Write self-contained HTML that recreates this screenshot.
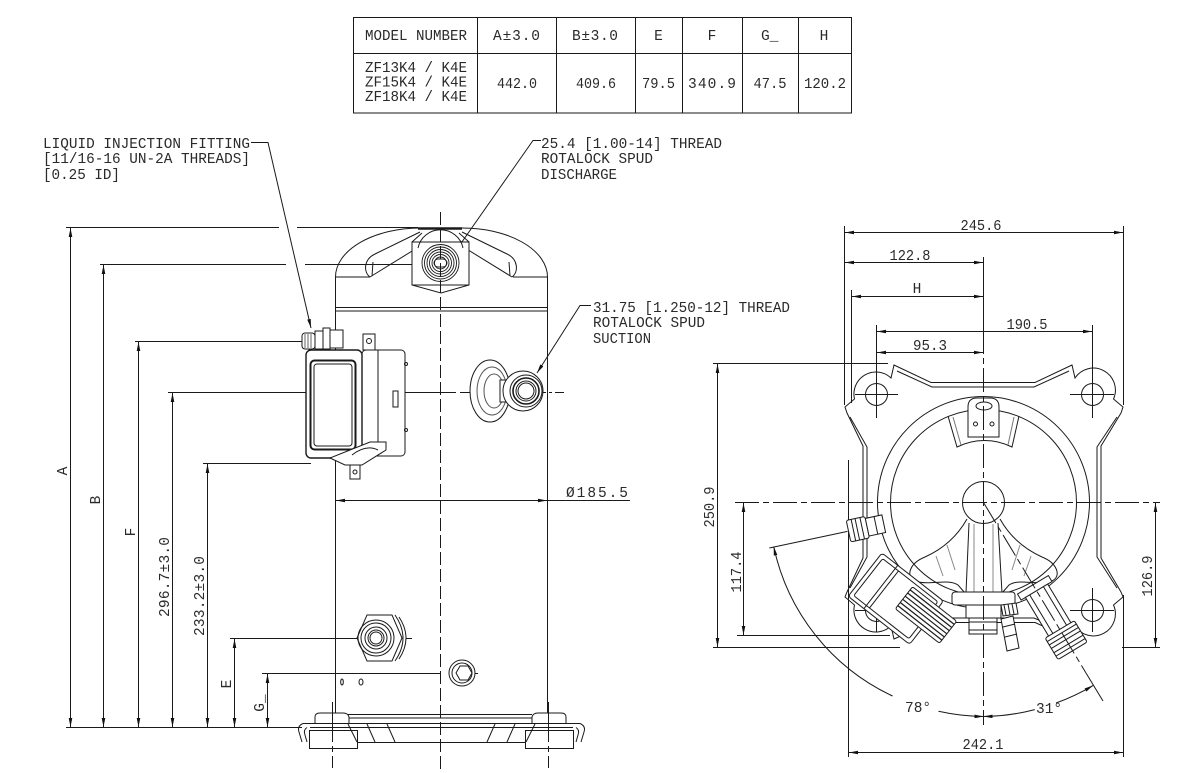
<!DOCTYPE html>
<html><head><meta charset="utf-8"><style>
html,body{margin:0;padding:0;background:#fff;width:1178px;height:773px;overflow:hidden}
svg{display:block}
text{font-family:"Liberation Mono","DejaVu Sans Mono",monospace;font-size:14.5px;fill:#2a2a2a;stroke:none}
.d{marker-start:url(#ar);marker-end:url(#ar)}
.e{marker-end:url(#ar)}
.c{stroke-dasharray:13 4}
.c2{stroke-dasharray:24 4 6 4}
.w{fill:#fff}
</style></head><body>
<svg xmlns="http://www.w3.org/2000/svg" width="1178" height="773" viewBox="0 0 1178 773">
<defs><marker id="ar" viewBox="0 0 10 4" refX="10" refY="2" markerWidth="9" markerHeight="3.6" markerUnits="userSpaceOnUse" orient="auto-start-reverse"><path d="M0,0L10,2L0,4z" fill="#111"/></marker></defs>
<rect width="1178" height="773" fill="#fff"/>

<g fill="none" stroke="#1a1a1a" stroke-width="1">
<!-- TABLE -->
<rect x="353.5" y="17.5" width="498" height="95.5"/>
<path d="M353.5,53.5H851.5M477.5,17.5V113M556.5,17.5V113M635.5,17.5V113M682.5,17.5V113M742.5,17.5V113M798.5,17.5V113"/>

<!-- LEFT VIEW: extension lines -->
<path d="M66,227.5H279M297,227.5H418M100,264.5H286M305,264.5H412M135,341.5H302M168,392.5H456M203,463.5H311M230,638.5H412M262,673.5H440M66,727.5H302"/>
<path d="M416,264.5H466M460,392.5H564M450,673.5H478" stroke-dasharray="10 3 3 3"/>
<!-- vertical dims -->
<path class="d" d="M70.5,228V727"/>
<path class="d" d="M103.5,265V727"/>
<path class="d" d="M138.5,342V727"/>
<path class="d" d="M172.5,393V727"/>
<path class="d" d="M207.5,464V727"/>
<path class="d" d="M234.5,639V727"/>
<path class="d" d="M267.5,674V727"/>
<!-- leaders -->
<path class="e" d="M251,142.5H268L311,328"/>
<path class="e" d="M541,140.5H533L457,249"/>
<path class="e" d="M591,305.5H580L537,373"/>
<!-- diameter dim -->
<path class="d" d="M336,500.5H547"/>
<path d="M547,500.5H630"/>

<!-- SHELL -->
<path d="M335.5,277V718M547.5,277V718"/>
<path d="M335.5,307.5H547.5M335.5,311H547.5"/>
<path d="M335.5,277A85,49 0 0 1 420,228H462A85,49 0 0 1 547.5,277"/>
<path d="M418,228.5H462" stroke-width="2.5"/>
<path d="M335.5,277H370M513,277H547.5"/>
<!-- ears -->
<path d="M370,277L417,248M375,254L420,232M370,277C363,272 364,259 375,254M373,262L372,276"/>
<path d="M512,277L465,248M507,254L462,232M512,277C519,272 518,259 507,254M509,262L510,276"/>
<!-- discharge boss -->
<path class="w" d="M412,242V285L441,293L469,285V242Z"/>
<path d="M412,285H469M412,242L422,233M469,242L459,233"/>
<path d="M418,248A23,23 0 0 1 463,248"/>
<g stroke-width="0.9">
<circle cx="440.5" cy="263" r="18.5"/><circle cx="440.5" cy="263" r="16"/><circle cx="440.5" cy="263" r="13.5"/>
<circle cx="440.5" cy="263" r="11"/><circle cx="440.5" cy="263" r="8.5"/><circle cx="440.5" cy="263" r="6"/>
<rect x="434" y="259" width="13" height="8" rx="4"/>
</g>

<!-- terminal box -->
<rect class="w" x="362" y="350" width="43" height="106" rx="4"/>
<path d="M378,350V456"/>
<rect class="w" x="306" y="350" width="56" height="108" rx="5" stroke-width="1.4"/>
<rect x="310.5" y="360.5" width="45" height="89" rx="4" stroke-width="2"/>
<rect x="314" y="364" width="38" height="82" rx="3"/>
<path class="w" d="M330,458L345,465H362L386,450V442H370Z"/>
<path d="M352,455Q366,444 378,450"/>
<rect x="393" y="391" width="5" height="16"/>
<circle cx="406" cy="364" r="1.5"/><circle cx="406" cy="430" r="1.5"/>
<rect class="w" x="363" y="334" width="12" height="16"/><circle cx="369" cy="341" r="2.5"/>
<rect class="w" x="350" y="465" width="10" height="14"/><circle cx="355" cy="472" r="2"/>
<!-- liquid injection fitting -->
<rect class="w" x="302" y="333" width="13" height="16" rx="3"/>
<path d="M305,334V348M308,334V348M311,334V348" stroke="#666"/>
<rect class="w" x="315" y="331" width="8" height="18"/>
<rect class="w" x="323" y="328" width="7" height="21"/>
<rect class="w" x="330" y="330" width="13" height="18"/>

<!-- suction fitting -->
<ellipse class="w" cx="490" cy="391" rx="20" ry="31"/>
<ellipse cx="492" cy="391" rx="15" ry="24" stroke="#555"/>
<ellipse cx="494" cy="391" rx="10" ry="17" stroke="#555"/>
<rect class="w" x="500" y="380" width="8" height="22"/>
<circle class="w" cx="523" cy="391" r="20"/>
<circle cx="526" cy="391" r="16"/>
<circle cx="526" cy="391" r="13" stroke-width="1.6"/>
<circle cx="526" cy="391" r="10"/>
<circle cx="526" cy="391" r="8"/>

<!-- sight glass -->
<path class="w" d="M395,615Q411,638 395,661M399,617Q413,638 399,659"/>
<polygon class="w" points="357,638 367,615 392,615 402,638 392,661 367,661"/>
<circle cx="376" cy="638" r="18"/><circle cx="376" cy="638" r="15"/>
<circle cx="376" cy="638" r="11"/><circle cx="376" cy="638" r="8"/><circle cx="376" cy="638" r="6"/>
<!-- small fitting -->
<circle class="w" cx="462" cy="673" r="13"/><circle cx="462" cy="673" r="10"/>
<polygon points="472,673 468,666 460,666 456,673 460,680 468,680"/>
<ellipse cx="342" cy="682" rx="1.3" ry="3"/><ellipse cx="361" cy="682" rx="2" ry="3"/>

<!-- base -->
<path d="M348,714.5H532M348,718H532"/>
<path class="w" d="M315,723V717Q315,713 320,713H343Q348,713 349,717V723"/>
<path class="w" d="M532,723V717Q533,713 538,713H561Q566,713 566,717V723"/>
<path d="M303,723.5H580M310,727.5H573"/>
<path d="M303,723.5Q297,726 299,732L302,742M307,727.5Q303,730 305,735L307,742"/>
<path d="M580,723.5Q586,726 584,732L581,742M576,727.5Q580,730 578,735L576,742"/>
<path d="M357,742.5H525"/>
<rect x="309.5" y="730.5" width="48" height="18"/>
<rect x="525.5" y="730.5" width="48" height="18"/>
<path d="M348,724L357,742M367,724L375,742M387,724L395,742M535,724L526,742M515,724L507,742M495,724L487,742"/>
<path d="M332.5,702V768M548.5,702V768" stroke-dasharray="40 4 6 4"/>
<!-- main centerline -->
<path class="c" d="M440.5,212V770"/>

<!-- ============ RIGHT VIEW ============ -->
<!-- outline -->
<path d="M854.5,399A22,22 0 0 1 891,378L894,365L931,382.5H1035L1072,365L1075,378A22,22 0 0 1 1113.5,399L1123,407L1121,413L1101,446V558L1121,592L1123,597L1113.5,605A22,22 0 0 1 1075,626L1072,639L1035,622.5H931L894,639L891,626A22,22 0 0 1 854.5,605L845,597L847,592L863,558V446L847,413L845,407Z"/>
<path d="M897,371L932,387H1034L1069,371M897,633L932,618H1034L1069,633M1117,417L1097,447V557L1117,588M850,417L867,447V557L850,588"/>
<path d="M848.5,460V757M1123.5,595V757"/>
<circle cx="876.5" cy="394.5" r="11"/><circle cx="1092.5" cy="394.5" r="11"/>
<circle cx="1092.5" cy="610.5" r="11"/><circle cx="876.5" cy="610.5" r="11"/>
<path d="M855,394.5H898M1070,394.5H1114M1070,610.5H1114M1092.5,588V632M855,610.5H898M876.5,588V632"/>
<!-- shell circles -->
<circle cx="983.5" cy="502.5" r="106"/>
<circle cx="983.5" cy="502.5" r="93"/>
<circle class="w" cx="983.5" cy="502.5" r="21"/>
<!-- top tab + band -->
<path d="M948,416L957,447A61,61 0 0 1 1012,447L1019,416"/>
<path d="M953,417L961,445M1014,417L1008,445" stroke="#777"/>
<path class="w" d="M968,437V407Q968,398 977,398H990Q999,398 999,407V437Z"/>
<ellipse cx="984" cy="406" rx="8" ry="4"/>
<circle cx="975.5" cy="424" r="2"/><circle cx="992" cy="424" r="2"/>
<!-- arms -->
<path d="M967,519C958,535 945,548 925,557C910,563 905,576 915,581C930,586 948,578 958,585L965,593"/>
<path d="M1000,519C1009,535 1022,548 1042,557C1057,563 1062,576 1052,581C1037,586 1019,578 1009,585L1002,593"/>
<path d="M969,523L966,593M998,523L1002,593"/>
<path d="M974,524V592M993,524V592M936,556L943,576M947,545L955,570M1031,556L1024,576M1020,545L1012,570" stroke="#888"/>
<!-- bottom fittings -->
<rect class="w" x="952" y="592" width="63" height="13" rx="3"/>
<rect class="w" x="966" y="605" width="35" height="13"/>
<rect class="w" x="969" y="618" width="28" height="16"/>
<path d="M969,622H997M969,630H997"/>
<path class="w" d="M1001,619L1013,616L1019,648L1007,651Z"/>
<path d="M1003,627L1015,624M1005,637L1017,634"/>
<path class="w" d="M1001,605L1016,603L1018,614L1003,616Z"/>
<path d="M1004,605L1006,615M1008,604L1010,615M1012,604L1014,614"/>
<!-- 31 deg fitting -->
<g transform="translate(983.5,502.5) rotate(-31)">
<rect class="w" x="-18" y="96" width="36" height="7"/>
<rect class="w" x="-13" y="103" width="26" height="46"/>
<path d="M-8,103V149M8,103V149"/>
<rect class="w" x="-17" y="148" width="34" height="25" rx="2"/>
<path d="M-17,152H17M-17,156H17M-17,160H17M-17,165H17M-17,169H17"/>
</g>
<!-- liquid fitting (78) -->
<g transform="translate(983.5,502.5) rotate(78)">
<rect class="w" x="-9" y="102" width="18" height="17"/>
<path d="M-9,110H9"/>
<rect class="w" x="-11" y="119" width="22" height="19" rx="2"/>
<path d="M-11,124H11M-11,129H11M-11,133H11"/>
</g>
<!-- terminal box -->
<g transform="translate(882,553) rotate(38)">
<rect class="w" x="0" y="0" width="78" height="55" rx="3"/>
<rect x="4" y="4" width="70" height="47" rx="2"/>
<path d="M20,0V55M24,4V51"/>
</g>
<g transform="translate(926,615) rotate(38)">
<rect class="w" x="-28" y="-14" width="56" height="28" rx="2"/>
<path d="M-28,-10H28M-28,-6H28M-28,-2H28M-28,2H28M-28,6H28M-28,10H28" stroke-width="1.2"/>
</g>
<!-- centerlines -->
<path class="c2" d="M735,502.5H1160"/>
<path d="M983.5,257V330"/>
<path class="c2" d="M983.5,330V725"/>
<path class="c2" d="M983.5,502.5L1086,673"/>
<path d="M1086,673L1103,701"/>
<g transform="translate(983.5,502.5) rotate(78)"><path d="M0,139V219"/></g>

<!-- dims -->
<path d="M844.5,226V405M1123.5,226V405M851.5,290V403M876.5,325V418M1092.5,325V418"/>
<path class="d" d="M845,232.5H1123"/>
<path class="d" d="M845,262.5H983"/>
<path class="d" d="M852,296.5H983"/>
<path class="d" d="M877,331.5H1092"/>
<path class="d" d="M877,352.5H983"/>
<path d="M713,363.5H888M713,647.5H900M737,635.5H890M1122,647.5H1160"/>
<path class="d" d="M717.5,364V647"/>
<path class="d" d="M743.5,503V635"/>
<path class="d" d="M1155.5,503V647"/>
<path class="d" d="M849,752.5H1123"/>
<!-- angle arcs -->
<path class="e" d="M892.6,696A214,214 0 0 1 773.7,546.5"/>
<path class="e" d="M938.5,711.3A214,214 0 0 0 983.5,716.5"/>
<path class="e" d="M1034.8,709.6A214,214 0 0 1 983.5,716.5"/>
<path class="e" d="M1056,703A214,214 0 0 0 1093.2,685.4"/>
</g>

<!-- TEXT -->
<g>
<text x="365" y="40" textLength="102" lengthAdjust="spacingAndGlyphs">MODEL NUMBER</text>
<text x="493" y="40" textLength="47" lengthAdjust="spacing">A±3.0</text>
<text x="572" y="40" textLength="46" lengthAdjust="spacing">B±3.0</text>
<text x="658.5" y="40" text-anchor="middle">E</text>
<text x="712" y="40" text-anchor="middle">F</text>
<text x="761" y="40">G_</text>
<text x="824" y="40" text-anchor="middle">H</text>
<text x="365" y="72" textLength="102" lengthAdjust="spacingAndGlyphs">ZF13K4 / K4E</text>
<text x="365" y="86.5" textLength="102" lengthAdjust="spacingAndGlyphs">ZF15K4 / K4E</text>
<text x="365" y="101" textLength="102" lengthAdjust="spacingAndGlyphs">ZF18K4 / K4E</text>
<text x="517" y="88" text-anchor="middle" textLength="40" lengthAdjust="spacingAndGlyphs">442.0</text>
<text x="596" y="88" text-anchor="middle" textLength="40" lengthAdjust="spacingAndGlyphs">409.6</text>
<text x="658.5" y="88" text-anchor="middle" textLength="33" lengthAdjust="spacingAndGlyphs">79.5</text>
<text x="712" y="88" text-anchor="middle" textLength="48" lengthAdjust="spacing">340.9</text>
<text x="770" y="88" text-anchor="middle" textLength="33" lengthAdjust="spacingAndGlyphs">47.5</text>
<text x="825" y="88" text-anchor="middle" textLength="42" lengthAdjust="spacingAndGlyphs">120.2</text>

<text x="43" y="148" textLength="207" lengthAdjust="spacingAndGlyphs">LIQUID INJECTION FITTING</text>
<text x="43" y="163" textLength="207" lengthAdjust="spacingAndGlyphs">[11/16-16 UN-2A THREADS]</text>
<text x="43" y="179" textLength="77" lengthAdjust="spacingAndGlyphs">[0.25 ID]</text>
<text x="541" y="148" textLength="181" lengthAdjust="spacingAndGlyphs">25.4 [1.00-14] THREAD</text>
<text x="541" y="163" textLength="112" lengthAdjust="spacingAndGlyphs">ROTALOCK SPUD</text>
<text x="541" y="179" textLength="76" lengthAdjust="spacingAndGlyphs">DISCHARGE</text>
<text x="593" y="312" textLength="197" lengthAdjust="spacingAndGlyphs">31.75 [1.250-12] THREAD</text>
<text x="593" y="327" textLength="112" lengthAdjust="spacingAndGlyphs">ROTALOCK SPUD</text>
<text x="593" y="343" textLength="58" lengthAdjust="spacingAndGlyphs">SUCTION</text>

<text x="566" y="497" textLength="62" lengthAdjust="spacing">Ø185.5</text>
<text transform="translate(67,471) rotate(-90)" text-anchor="middle">A</text>
<text transform="translate(100,500) rotate(-90)" text-anchor="middle">B</text>
<text transform="translate(135,532) rotate(-90)" text-anchor="middle">F</text>
<text transform="translate(169,577) rotate(-90)" text-anchor="middle" textLength="80" lengthAdjust="spacing">296.7±3.0</text>
<text transform="translate(204,596) rotate(-90)" text-anchor="middle" textLength="80" lengthAdjust="spacing">233.2±3.0</text>
<text transform="translate(231,684) rotate(-90)" text-anchor="middle">E</text>
<text transform="translate(264,703) rotate(-90)" text-anchor="middle">G_</text>

<text x="981" y="230" text-anchor="middle" textLength="41" lengthAdjust="spacingAndGlyphs">245.6</text>
<text x="910" y="260" text-anchor="middle" textLength="41" lengthAdjust="spacingAndGlyphs">122.8</text>
<text x="917" y="293" text-anchor="middle">H</text>
<text x="1027" y="329" text-anchor="middle" textLength="41" lengthAdjust="spacingAndGlyphs">190.5</text>
<text x="930" y="350" text-anchor="middle" textLength="34" lengthAdjust="spacingAndGlyphs">95.3</text>
<text transform="translate(714,507) rotate(-90)" text-anchor="middle" textLength="41" lengthAdjust="spacingAndGlyphs">250.9</text>
<text transform="translate(741,572) rotate(-90)" text-anchor="middle" textLength="41" lengthAdjust="spacingAndGlyphs">117.4</text>
<text transform="translate(1152,576) rotate(-90)" text-anchor="middle" textLength="41" lengthAdjust="spacingAndGlyphs">126.9</text>
<text x="983" y="749" text-anchor="middle" textLength="41" lengthAdjust="spacingAndGlyphs">242.1</text>
<text x="905" y="712">78°</text>
<text x="1036" y="713">31°</text>
</g>
</svg>
</body></html>
